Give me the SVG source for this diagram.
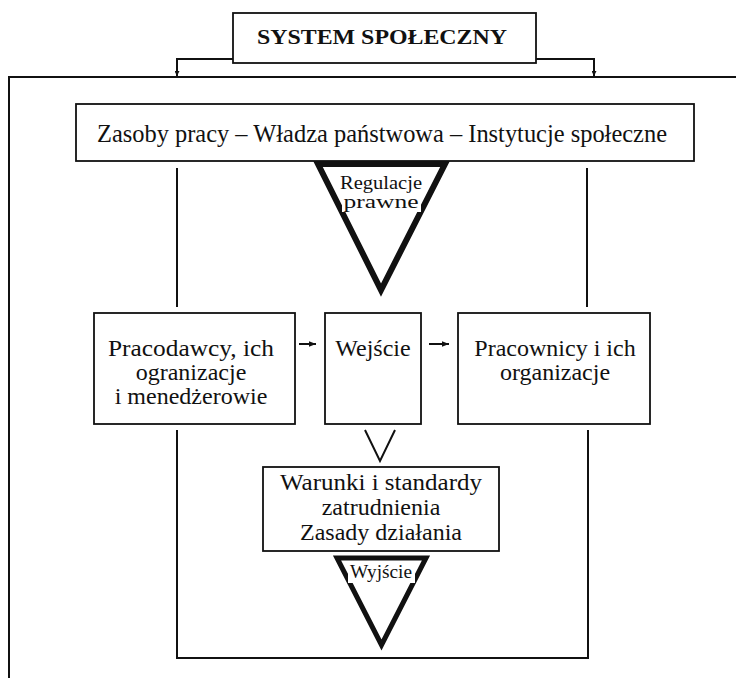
<svg xmlns="http://www.w3.org/2000/svg" width="736" height="678" viewBox="0 0 736 678">
<defs>
<marker id="ah" viewBox="0 0 10 10" refX="10" refY="5" markerWidth="5" markerHeight="5" orient="auto" markerUnits="userSpaceOnUse">
<path d="M0,0 L10,5 L0,10 z" fill="#111"/>
</marker>
<marker id="ah2" viewBox="0 0 10 10" refX="10" refY="5" markerWidth="7" markerHeight="7" orient="auto" markerUnits="userSpaceOnUse">
<path d="M0,1 L10,5 L0,9 z" fill="#111"/>
</marker>
</defs>
<style>
.box{fill:#fff;stroke:#111;stroke-width:1.8}
.ln{fill:none;stroke:#111;stroke-width:2}
.t{font-family:"Liberation Serif","Times New Roman",serif;font-size:24px;fill:#111;text-anchor:middle}
.tri{fill:none;stroke:#111;stroke-linejoin:miter}
.lbl{font-family:"Liberation Serif","Times New Roman",serif;font-size:19px;fill:#111;text-anchor:middle}
</style>
<rect width="736" height="678" fill="#fff"/>

<g id="connectors">
<polyline class="ln" points="233,59 177,59 177,76" marker-end="url(#ah)"/>
<polyline class="ln" points="536,59 594,59 594,76" marker-end="url(#ah)"/>
<polyline class="ln" points="736,77 9,77 9,678"/>
<line class="ln" x1="177" y1="168" x2="177" y2="307"/>
<line class="ln" x1="587" y1="168" x2="587" y2="307"/>
<polyline class="ln" points="177,430 177,658 588,658 588,430"/>
<line class="ln" x1="299" y1="344" x2="316" y2="344" marker-end="url(#ah2)"/>
<line class="ln" x1="429" y1="344" x2="449" y2="344" marker-end="url(#ah2)"/>
<polyline class="ln" points="365,430 380,461 395,430"/>
</g>

<g id="title">
<rect class="box" x="233" y="13" width="303" height="50"/>
<text class="t" x="382" y="44" style="font-weight:bold;font-size:21px" textLength="250" lengthAdjust="spacingAndGlyphs">SYSTEM SPOŁECZNY</text>
</g>

<g id="zasoby">
<rect class="box" x="76" y="104" width="618" height="57"/>
<text class="t" x="382" y="142" style="font-size:25px" textLength="570" lengthAdjust="spacingAndGlyphs">Zasoby pracy – Władza państwowa – Instytucje społeczne</text>
</g>

<g id="regulacje">
<polygon class="tri" points="318,164 445,164 381,290" stroke-width="6"/>
<rect x="342" y="168" width="79" height="44" fill="#fff"/>
<text class="lbl" x="381" y="189" textLength="82" lengthAdjust="spacingAndGlyphs">Regulacje</text>
<text class="lbl" x="381" y="208" textLength="75" lengthAdjust="spacingAndGlyphs">prawne</text>
</g>

<g id="pracodawcy">
<rect class="box" x="94" y="313" width="201" height="111"/>
<text class="t" x="191" y="356" textLength="166" lengthAdjust="spacingAndGlyphs">Pracodawcy, ich</text>
<text class="t" x="191" y="380">ogranizacje</text>
<text class="t" x="191" y="404">i menedżerowie</text>
</g>

<g id="wejscie">
<rect class="box" x="325" y="313" width="96" height="111"/>
<text class="t" x="373" y="356">Wejście</text>
</g>

<g id="pracownicy">
<rect class="box" x="458" y="313" width="192" height="111"/>
<text class="t" x="555" y="356">Pracownicy i ich</text>
<text class="t" x="555" y="380">organizacje</text>
</g>

<g id="warunki">
<rect class="box" x="263" y="467" width="236" height="84"/>
<text class="t" x="381" y="490" textLength="202" lengthAdjust="spacingAndGlyphs">Warunki i standardy</text>
<text class="t" x="381" y="515">zatrudnienia</text>
<text class="t" x="381" y="540">Zasady działania</text>
</g>

<g id="wyjscie">
<polygon class="tri" points="337,558 426,558 381.5,645" stroke-width="5"/>
<rect x="348" y="561" width="67" height="22" fill="#fff"/>
<text class="lbl" x="381" y="578" textLength="62" lengthAdjust="spacingAndGlyphs">Wyjście</text>
</g>
</svg>
